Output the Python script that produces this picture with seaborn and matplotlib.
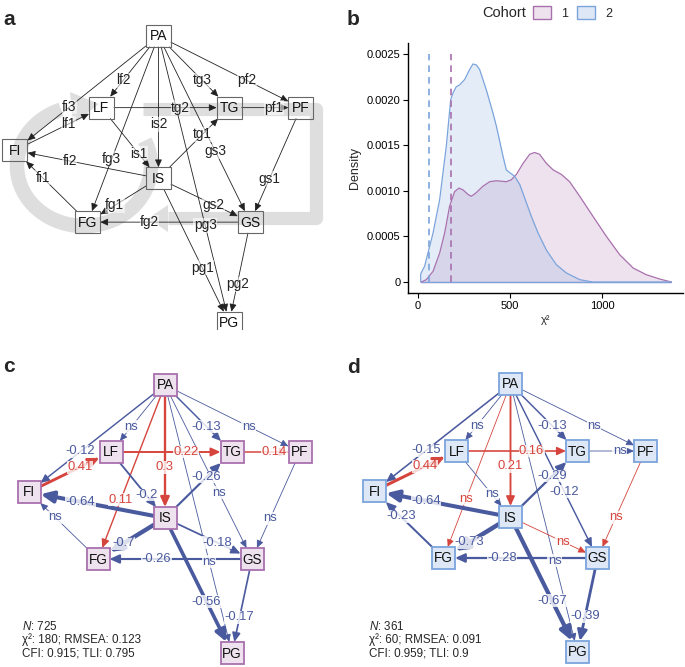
import numpy as np
import pandas as pd
import matplotlib as mpl
mpl.use('Agg')
import matplotlib.pyplot as plt
from matplotlib.patches import Rectangle, Polygon, Patch
import seaborn as sns

sns.set_style('ticks')
plt.rcParams['font.family'] = ['Liberation Sans', 'DejaVu Sans']
plt.rcParams['mathtext.fontset'] = 'custom'
plt.rcParams['mathtext.it'] = 'Liberation Sans:italic'
plt.rcParams['mathtext.rm'] = 'Liberation Sans'

# model: observed variables and paths
NODES = ['PA', 'LF', 'TG', 'PF', 'FI', 'IS', 'FG', 'GS', 'PG']
EDGE_FROM = ['PA', 'PA', 'PA', 'PA', 'PA', 'PA', 'PA', 'PA', 'FI', 'LF', 'LF',
             'TG', 'IS', 'IS', 'IS', 'IS', 'IS', 'FG', 'GS', 'PF', 'GS']
EDGE_TO = ['FI', 'LF', 'FG', 'IS', 'PG', 'GS', 'TG', 'PF', 'LF', 'TG', 'IS',
           'PF', 'FI', 'TG', 'FG', 'GS', 'PG', 'FI', 'FG', 'GS', 'PG']
PATH_NAMES = ['fi3', 'lf2', 'fg3', 'is2', 'pg3', 'gs3', 'tg3', 'pf2', 'lf1', 'tg2', 'is1',
              'pf1', 'fi2', 'tg1', 'fg1', 'gs2', 'pg1', 'fi1', 'fg2', 'gs1', 'pg2']

# standardised estimates per cohort (None = ns)
COEF_C1 = [-0.12, None, 0.11, 0.3, None, None, -0.13, None, 0.41, 0.22, -0.2,
           0.14, -0.64, -0.26, -0.7, -0.18, -0.56, None, -0.26, None, -0.17]
COEF_C2 = [-0.15, None, None, 0.21, None, -0.12, -0.13, None, 0.44, 0.16, None,
           None, -0.64, -0.29, -0.73, None, -0.67, -0.23, -0.28, None, -0.39]
# ns paths with a positive sign
NS_POS_C1 = []
NS_POS_C2 = [('PA', 'FG'), ('IS', 'GS'), ('PF', 'GS')]

FIT_C1 = ['725', '180', '0.123', '0.915', '0.795']
FIT_C2 = ['361', '60', '0.091', '0.959', '0.9']

# panel b: chi-square densities
CHI2_C1 = [18, 45, 82, 118, 145, 172, 199, 223, 245, 272, 290, 317, 353, 390, 426, 480, 507,
           535, 571, 607, 634, 661, 698, 734, 779, 824, 879, 951, 1024, 1096, 1169, 1241, 1314, 1377]
DENS_C1 = [0, 0.000026, 0.000117, 0.000318, 0.000537, 0.00083, 0.00099, 0.00103, 0.00101,
           0.00096, 0.00094, 0.00098, 0.00105, 0.0011, 0.00111, 0.0011, 0.00112, 0.00118,
           0.0013, 0.0014, 0.00142, 0.0014, 0.0013, 0.00123, 0.00118, 0.0011, 0.00094,
           0.00072, 0.0005, 0.0003, 0.000154, 0.00008, 0.000033, 0]
CHI2_C2 = [15, 15, 36, 82, 118, 154, 178, 190, 208, 226, 254, 281, 299, 317, 335, 371, 408, 426,
           462, 480, 498, 525, 553, 589, 616, 652, 698, 752, 806, 879, 951, 1377]
DENS_C2 = [0, 0.00009, 0.000172, 0.000537, 0.000903, 0.001488, 0.002, 0.00207, 0.00214,
           0.00216, 0.00222, 0.00233, 0.00239, 0.00238, 0.00233, 0.00211, 0.00185, 0.00171,
           0.00138, 0.00123, 0.0012, 0.00116, 0.00107, 0.00087, 0.00072, 0.00054, 0.00035,
           0.00019, 0.0001, 0.000026, 0, 0]
CHI2_OBS = [180, 60]
COHORTS = ['1', '2']

# ---- layout / styles ----
W, H = 685, 667
LAYOUT = {'PA': (165, 55), 'LF': (111, 122), 'TG': (232, 122), 'PF': (300, 122),
          'FI': (29, 162), 'IS': (165, 188), 'FG': (98, 229), 'GS': (252, 229),
          'PG': (232, 323)}
# where a path label sits along its path (default 0.62)
LABEL_T = {('PA', 'PG'): 0.66, ('IS', 'GS'): 0.6, ('PA', 'FG'): 0.66, ('LF', 'IS'): 0.65}
LINE_C = ['#A970AE', '#7BA4DC']
NODE_FILL = ['#EEE2EE', '#DEE7F5']
BLUE, RED = '#4A5A9E', '#D6453D'

fig = plt.figure(figsize=(W / 100, H / 100), dpi=100)


def px_axes(x0, y0, w, h):
    ax = fig.add_axes([x0 / W, 1 - (y0 + h) / H, w / W, h / H])
    ax.set_xlim(0, w)
    ax.set_ylim(h, 0)
    ax.axis('off')
    return ax


def draw_diagram(ax, pos, labels, colors, widths, hw, hh, node_fc, node_ec, node_lw,
                 fs_node, fs_lab, lab_alpha):
    for a, b, lab, c, lw in zip(EDGE_FROM, EDGE_TO, labels, colors, widths):
        p = np.array(pos(LAYOUT[a]), float)
        q = np.array(pos(LAYOUT[b]), float)
        d = q - p
        t = min(hw / abs(d[0]) if d[0] else np.inf, hh / abs(d[1]) if d[1] else np.inf)
        s, e = p + d * t, q - d * t
        ms = 7 + 2.2 * lw
        ax.annotate('', xy=e, xytext=s, zorder=2,
                    arrowprops=dict(arrowstyle='-|>,head_length=0.55,head_width=0.25',
                                    lw=lw, color=c, shrinkA=0, shrinkB=0,
                                    mutation_scale=ms))
        lp = p + LABEL_T.get((a, b), 0.62) * d
        ax.text(lp[0], lp[1], lab, ha='center', va='center', color=c, fontsize=fs_lab,
                zorder=4, bbox=dict(boxstyle='square,pad=0.03', fc='white', ec='none',
                                    alpha=lab_alpha))
    for n in NODES:
        x, y = pos(LAYOUT[n])
        ax.add_patch(Rectangle((x - hw, y - hh), 2 * hw, 2 * hh, fc=node_fc, ec=node_ec,
                               lw=node_lw, zorder=5))
        ax.text(x, y + 0.5, n, ha='center', va='center', fontsize=fs_node, zorder=6,
                color='#111111')


# ---- panel a ----
ax_a = px_axes(0, 0, 340, 330)
# grey cycle arrow (left) and grey path arrow (right)
th = np.deg2rad(np.linspace(-25, 250, 200))
ax_a.plot(84 + 67 * np.cos(th), 166 + 60 * np.sin(th), color='#DEDEDE', lw=10.5,
          solid_capstyle='butt', zorder=0)
ax_a.add_patch(Polygon([(70, 92), (73, 124), (99, 104)], closed=True, fc='#DEDEDE',
                       ec='none', zorder=0))
ax_a.plot([143, 316, 316, 168], [109, 109, 218, 218], color='#DEDEDE', lw=9.5,
          solid_joinstyle='round', solid_capstyle='butt', zorder=0)
ax_a.add_patch(Polygon([(168, 205), (168, 232), (148, 218.5)], closed=True, fc='#DEDEDE',
                       ec='none', zorder=0))
pos_a = lambda p: ((p[0] - 14.8) * 1.055, (p[1] - 21.4) * 1.07)
draw_diagram(ax_a, pos_a, PATH_NAMES, ['#222222'] * len(PATH_NAMES),
             [0.6] * len(PATH_NAMES), 12.5, 11, 'none', '#666666', 0.8, 10, 9.8, 0.55)


# ---- panels c and d ----
def edge_styles(coefs, ns_pos):
    labels, colors, widths = [], [], []
    for a, b, v in zip(EDGE_FROM, EDGE_TO, coefs):
        if v is None:
            labels.append('ns')
            colors.append(RED if (a, b) in ns_pos else BLUE)
            widths.append(0.6)
        else:
            labels.append('%g' % v)
            colors.append(RED if v > 0 else BLUE)
            widths.append(0.6 + 3.6 * abs(v))
    return labels, colors, widths


def fit_text(ax, x, y, fit):
    ax.text(x, y, r'$\mathit{N}$: %s' % fit[0], fontsize=8.4, va='baseline')
    ax.text(x, y + 13, 'χ²: %s; RMSEA: %s' % (fit[1], fit[2]), fontsize=8.4, va='baseline')
    ax.text(x, y + 26, 'CFI: %s; TLI: %s' % (fit[3], fit[4]), fontsize=8.4, va='baseline')


ax_c = px_axes(0, 330, 340, 337)
lab, col, wid = edge_styles(COEF_C1, NS_POS_C1)
draw_diagram(ax_c, lambda p: p, lab, col, wid, 11.5, 11, NODE_FILL[0], LINE_C[0], 1.3,
             9.8, 9.4, 0.8)
fit_text(ax_c, 22, 300, FIT_C1)

ax_d = px_axes(340, 330, 345, 337)
lab, col, wid = edge_styles(COEF_C2, NS_POS_C2)
draw_diagram(ax_d, lambda p: (p[0] + 5.5, p[1] - 1), lab, col, wid, 11.5, 11,
             NODE_FILL[1], LINE_C[1], 1.3, 9.8, 9.4, 0.8)
fit_text(ax_d, 29, 300, FIT_C2)

# ---- panel b ----
ax_b = fig.add_axes([408 / W, 1 - 293 / H, 275 / W, 250 / H])
dens = pd.concat([
    pd.DataFrame({'chi2': CHI2_C1, 'density': DENS_C1, 'cohort': '1'}),
    pd.DataFrame({'chi2': CHI2_C2, 'density': DENS_C2, 'cohort': '2'}),
])
for i, (coh, sub) in enumerate(dens.groupby('cohort')):
    ax_b.fill_between(sub['chi2'], 0, sub['density'], color=LINE_C[i], alpha=0.2, lw=0)
    ax_b.plot([sub['chi2'].min(), sub['chi2'].max()], [0, 0], color=LINE_C[i], lw=0.9)
sns.lineplot(data=dens, x='chi2', y='density', hue='cohort', palette=LINE_C, sort=False,
             estimator=None, legend=False, lw=0.9, ax=ax_b)
ax_b.vlines(CHI2_OBS, 0, 0.0025, colors=LINE_C, linestyles=(0, (4, 3)), lw=1.2)
ax_b.set_xlim(-54, 1440)
ax_b.set_ylim(-0.00012, 0.00262)
ax_b.set_xticks([0, 500, 1000])
ax_b.set_yticks([0, 0.0005, 0.001, 0.0015, 0.002, 0.0025],
                ['0', '0.0005', '0.0010', '0.0015', '0.0020', '0.0025'])
ax_b.tick_params(labelsize=8, length=3.5, width=0.8, colors='black', pad=2)
ax_b.set_xlabel('χ²', fontsize=8, labelpad=3)
ax_b.set_ylabel('Density', fontsize=9, labelpad=4)
for sp in ['left', 'bottom']:
    ax_b.spines[sp].set_linewidth(1.0)
    ax_b.spines[sp].set_color('black')
sns.despine(ax=ax_b)

fig.text(482 / W, 1 - 13 / H, 'Cohort', fontsize=10.5, va='center')
handles = [Patch(fc=fc, ec=c) for fc, c in zip(NODE_FILL, LINE_C)]
fig.legend(handles, COHORTS, loc='center left', bbox_to_anchor=(533 / W, 1 - 13 / H),
           ncol=2, frameon=False, fontsize=9, handlelength=1.45, handleheight=1.2,
           handletextpad=0.8, columnspacing=0.7, borderpad=0, borderaxespad=0)

# panel letters
for t, x, y in [('a', 3, 25), ('b', 347, 25), ('c', 3, 372), ('d', 347, 373)]:
    fig.text(x / W, 1 - y / H, t, fontsize=15, fontweight='bold', va='baseline')

fig.savefig('out.png', dpi=100)
